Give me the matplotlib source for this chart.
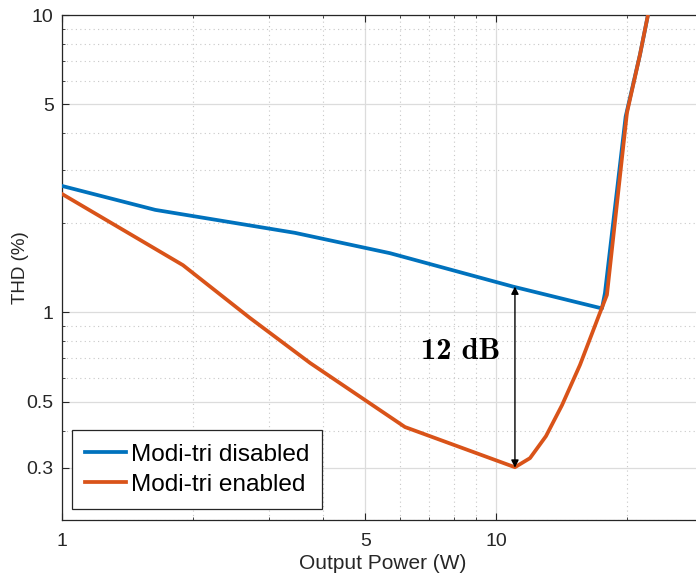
import matplotlib
matplotlib.use('Agg')
import matplotlib.pyplot as plt
from matplotlib.ticker import FixedLocator, NullFormatter, LogLocator
import numpy as np

# values (output power in W, THD in %)
p_disabled = [1.0, 1.64, 3.44, 5.70, 10.94, 17.55, 17.83, 19.9, 21.47, 22.4]
thd_disabled = [2.66, 2.21, 1.85, 1.58, 1.22, 1.03, 1.16, 4.55, 7.35, 10.0]

p_enabled = [1.0, 1.90, 2.71, 3.73, 6.17, 11.06, 11.98, 13.04, 14.2, 15.62,
             17.36, 18.02, 20.04, 21.47, 22.4]
thd_enabled = [2.50, 1.44, 0.957, 0.675, 0.411, 0.301, 0.323, 0.383, 0.487,
               0.665, 0.995, 1.144, 4.69, 7.35, 10.0]

series_labels = ['Modi-tri disabled', 'Modi-tri enabled']
x_ticks = [1, 5, 10]
y_ticks = [0.3, 0.5, 1, 5, 10]

# annotation: gap between the curves at ~11 W
gap_x = 11.06
gap_top = 1.22
gap_bottom = 0.30
gap_label = '12 dB'

plt.rcParams['font.family'] = ['Liberation Sans', 'DejaVu Sans']

fig = plt.figure(figsize=(6.96, 5.8), dpi=100)
ax = fig.add_axes([62/696, 60/580, 641/696, 505/580])

blue = '#0072BD'
orange = '#D95319'
ax.plot(p_disabled, thd_disabled, color=blue, lw=2.7, label=series_labels[0],
        solid_joinstyle='round', zorder=3)
ax.plot(p_enabled, thd_enabled, color=orange, lw=2.7, label=series_labels[1],
        solid_joinstyle='round', zorder=4)

ax.set_xscale('log')
ax.set_yscale('log')
ax.set_xlim(1, 30)
ax.set_ylim(0.2, 10)

ax.xaxis.set_major_locator(FixedLocator(x_ticks))
ax.set_xticklabels([str(v) for v in x_ticks])
ax.xaxis.set_minor_locator(LogLocator(base=10, subs=np.arange(2, 10)))
ax.xaxis.set_minor_formatter(NullFormatter())
ax.yaxis.set_major_locator(FixedLocator(y_ticks))
ax.set_yticklabels([str(v) for v in y_ticks])
ax.yaxis.set_minor_locator(LogLocator(base=10, subs=np.arange(2, 10)))
ax.yaxis.set_minor_formatter(NullFormatter())

ax.grid(which='major', color='#dcdcdc', lw=0.9, ls='-')
ax.grid(which='minor', color='#c8c8c8', lw=0.8, ls=(0, (1, 3)))
ax.set_axisbelow(True)

ax.tick_params(which='both', direction='in', top=True, right=True,
               colors='#262626', labelsize=14)
ax.tick_params(which='major', length=5, width=0.8)
ax.tick_params(which='minor', length=2.5, width=0.6)
ax.tick_params(axis='x', pad=9)
ax.tick_params(axis='y', pad=6)
for s in ax.spines.values():
    s.set_color('#262626')
    s.set_linewidth(0.9)

ax.set_xlabel('Output Power (W)', fontsize=15, color='#262626', labelpad=3)
ax.set_ylabel('THD (%)', fontsize=13.5, color='#262626', labelpad=-2)

ax.annotate('', xy=(gap_x, gap_top), xytext=(gap_x, gap_bottom),
            arrowprops=dict(arrowstyle='<|-|>', color='k', lw=1.0,
                            mutation_scale=11, shrinkA=0, shrinkB=0), zorder=5)
ax.text(8.3, 0.735, gap_label, fontsize=22, family='cmb10',
        ha='center', va='center', color='k')

leg = ax.legend(loc='lower left', bbox_to_anchor=(10/641, 11/505),
                borderaxespad=0, fontsize=17.6, handlelength=1.65,
                handletextpad=0.2, labelspacing=0.32, borderpad=0.55,
                fancybox=False, framealpha=1, edgecolor='#262626')
leg.get_frame().set_linewidth(0.9)
for t in leg.get_texts():
    t.set_color('black')

fig.savefig('out.png', dpi=100)
